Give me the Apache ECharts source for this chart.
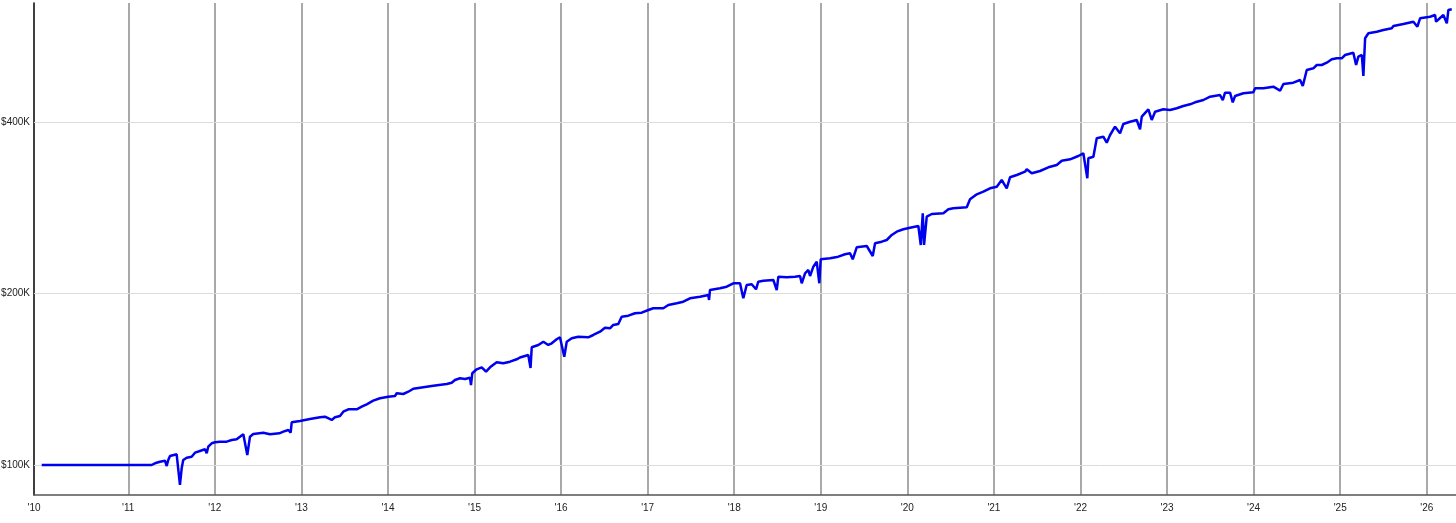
<!DOCTYPE html>
<html>
<head>
<meta charset="utf-8">
<script src="https://cdn.jsdelivr.net/npm/echarts@6/dist/echarts.min.js"></script>
<style>
  html, body { margin: 0; padding: 0; background: #ffffff; }
  #chart { width: 1456px; height: 523px; }
</style>
</head>
<body>
<div id="chart"></div>
<script>
// Decimal years (x) of each point of the equity curve
const years = [
  2010.000, 2011.270, 2011.308, 2011.366, 2011.424, 2011.444, 2011.462, 2011.482, 2011.559, 2011.574,
  2011.597, 2011.617, 2011.635, 2011.675, 2011.732, 2011.771, 2011.828, 2011.886, 2011.906, 2011.924,
  2011.964, 2012.002, 2012.059, 2012.137, 2012.195, 2012.252, 2012.290, 2012.329, 2012.375, 2012.406,
  2012.444, 2012.560, 2012.637, 2012.745, 2012.791, 2012.849, 2012.876, 2012.888, 2012.984, 2013.099,
  2013.215, 2013.272, 2013.350, 2013.388, 2013.446, 2013.484, 2013.542, 2013.639, 2013.697, 2013.754,
  2013.830, 2013.908, 2014.004, 2014.081, 2014.101, 2014.177, 2014.235, 2014.293, 2014.370, 2014.524,
  2014.679, 2014.736, 2014.774, 2014.832, 2014.890, 2014.948, 2014.959, 2014.974, 2015.025, 2015.083,
  2015.133, 2015.179, 2015.256, 2015.332, 2015.410, 2015.487, 2015.525, 2015.621, 2015.647, 2015.661,
  2015.737, 2015.795, 2015.852, 2015.892, 2015.949, 2015.987, 2016.037, 2016.065, 2016.123, 2016.199,
  2016.314, 2016.372, 2016.450, 2016.507, 2016.565, 2016.603, 2016.661, 2016.700, 2016.777, 2016.854,
  2016.931, 2017.008, 2017.065, 2017.181, 2017.239, 2017.336, 2017.412, 2017.489, 2017.605, 2017.701,
  2017.709, 2017.720, 2017.836, 2017.913, 2017.990, 2018.067, 2018.105, 2018.144, 2018.202, 2018.252,
  2018.278, 2018.336, 2018.452, 2018.491, 2018.510, 2018.607, 2018.702, 2018.760, 2018.780, 2018.818,
  2018.856, 2018.876, 2018.914, 2018.953, 2018.983, 2018.999, 2019.107, 2019.203, 2019.280, 2019.338,
  2019.369, 2019.415, 2019.531, 2019.600, 2019.627, 2019.704, 2019.762, 2019.820, 2019.877, 2019.954,
  2020.031, 2020.127, 2020.155, 2020.178, 2020.193, 2020.212, 2020.224, 2020.282, 2020.416, 2020.474,
  2020.531, 2020.686, 2020.724, 2020.802, 2020.878, 2020.955, 2021.033, 2021.090, 2021.148, 2021.186,
  2021.264, 2021.360, 2021.379, 2021.437, 2021.533, 2021.629, 2021.726, 2021.784, 2021.880, 2021.975,
  2022.033, 2022.079, 2022.091, 2022.149, 2022.188, 2022.264, 2022.303, 2022.342, 2022.399, 2022.457,
  2022.495, 2022.573, 2022.650, 2022.688, 2022.708, 2022.784, 2022.823, 2022.862, 2022.957, 2023.035,
  2023.112, 2023.188, 2023.266, 2023.324, 2023.420, 2023.497, 2023.612, 2023.644, 2023.670, 2023.728,
  2023.759, 2023.786, 2023.882, 2023.997, 2024.017, 2024.113, 2024.228, 2024.306, 2024.344, 2024.459,
  2024.537, 2024.568, 2024.614, 2024.690, 2024.730, 2024.787, 2024.845, 2024.903, 2024.961, 2025.018,
  2025.057, 2025.152, 2025.184, 2025.210, 2025.250, 2025.268, 2025.288, 2025.326, 2025.423, 2025.499,
  2025.596, 2025.615, 2025.730, 2025.846, 2025.892, 2025.923, 2026.039, 2026.096, 2026.108, 2026.192,
  2026.232, 2026.250, 2026.289
];

// Account value in dollars at each point
const values = [
  100000, 100000, 100690, 101340, 101750,  99600, 102040, 103700, 104420, 103830,
   92240,  98680, 102040, 102990, 103410, 105100, 105820, 106550, 104840, 107680,
  109170, 109610, 109880, 109900, 110630, 110950, 112120, 113210, 104120, 112120,
  113350, 113940, 113210, 113670, 114410, 115200, 113940, 118840, 119460, 120430,
  121260, 121560, 119950, 121260, 121900, 124040, 125250, 125250, 126570, 127810,
  129680, 130940, 131790, 132170, 133620, 133240, 134480, 136120, 136670, 137780,
  138730, 139460, 141000, 141970, 141570, 142310, 138170, 144870, 147230, 148420,
  145810, 148420, 151450, 150840, 151820, 153300, 154420, 155990, 148000, 160920,
  162420, 164600, 162420, 163540, 166210, 167560, 154920, 164600, 166880, 167960,
  167560, 169120, 171390, 174190, 173760, 176100, 176810, 182100, 182840, 184620,
  185070, 187100, 188390, 188390, 190920, 192240, 193490, 196160, 197440, 198800,
  194820, 202860, 204250, 205580, 208420, 208420, 196160, 207000, 207580, 203430,
  209780, 210630, 211220, 202860, 214060, 213540, 214060, 214670, 208420, 217020,
  219940, 214670, 222890, 227440, 208420, 229660, 230590, 232080, 234350, 235300,
  229660, 241070, 242340, 232740, 245000, 246590, 248290, 253360, 256760, 259260,
  260940, 262740, 243310, 276580, 243310, 243310, 272800, 275790, 276580, 281080,
  282220, 283360, 292670, 298650, 301800, 305980, 307960, 316410, 305980, 319890,
  322880, 327210, 330400, 325100, 328140, 333080, 336190, 342090, 344030, 348650,
  352480, 318600, 345420, 347670, 374510, 376940, 367910, 379540, 392490, 382160,
  396800, 400500, 403260, 388390, 408680, 421080, 403260, 417020, 421080, 419890,
  422790, 426740, 429680, 433170, 437210, 443090, 446140, 436980, 450310, 450310,
  433170, 444340, 449220, 451030, 458390, 458390, 461360, 453960, 466420, 468880,
  474020, 462670, 493580, 496980, 503650, 503650, 508360, 515390, 517480, 517480,
  524430, 529330, 503650, 520840, 524430, 481750, 561030, 572490, 576200, 580180,
  584180, 589630, 594420, 599970, 587970, 608270, 612220, 616440, 599970, 616440,
  596100, 629020, 630810
];

// Axis ticks
const yearTicks = [2011, 2012, 2013, 2014, 2015, 2016, 2017, 2018, 2019, 2020, 2021, 2022, 2023, 2024, 2025, 2026];
const xMin = 2009.911;
const xMax = 2026.338;
const yTicks = [100000, 200000, 400000];
const yMin = 88580;
const yMax = 647070;

const seriesData = years.map((y, i) => [y, values[i]]);

const chart = echarts.init(document.getElementById('chart'), null, { renderer: 'canvas' });
chart.setOption({
  animation: false,
  backgroundColor: '#ffffff',
  grid: { left: 34, right: 0, top: 3, bottom: 28, containLabel: false },
  xAxis: {
    type: 'value',
    min: xMin,
    max: xMax,
    axisLine: { show: true, onZero: false, lineStyle: { color: '#555555', width: 1.5 } },
    axisTick: { show: false, customValues: yearTicks },
    axisLabel: {
      show: true,
      customValues: [xMin].concat(yearTicks),
      margin: 8,
      color: '#222222',
      fontSize: 10,
      fontFamily: 'Liberation Sans, Arial, sans-serif',
      formatter: function (v) { return "'" + String(Math.round(v)).slice(2); }
    },
    splitLine: { show: true, lineStyle: { color: '#8c8c8c', width: 1.5 } }
  },
  yAxis: {
    type: 'log',
    logBase: 2,
    min: yMin,
    max: yMax,
    axisLine: { show: true, lineStyle: { color: '#000000', width: 1.5 } },
    axisTick: { show: false },
    axisLabel: { show: false },
    splitLine: { show: false }
  },
  series: [{
    type: 'line',
    z: 3,
    data: seriesData,
    showSymbol: false,
    symbol: 'none',
    lineStyle: { color: '#0000f0', width: 2.5 },
    itemStyle: { color: '#0000f0' },
    markLine: {
      silent: true,
      z: 1,
      symbol: ['none', 'none'],
      animation: false,
      lineStyle: { color: '#dcdcdc', width: 1, type: 'solid' },
      label: {
        show: true,
        position: 'start',
        distance: 4,
        color: '#222222',
        fontSize: 10,
        fontFamily: 'Liberation Sans, Arial, sans-serif',
        formatter: function (p) { return '$' + Math.round(p.value / 1000) + 'K'; }
      },
      emphasis: { disabled: true },
      data: yTicks.map(function (v) { return { yAxis: v }; })
    }
  }]
});
</script>
</body>
</html>
